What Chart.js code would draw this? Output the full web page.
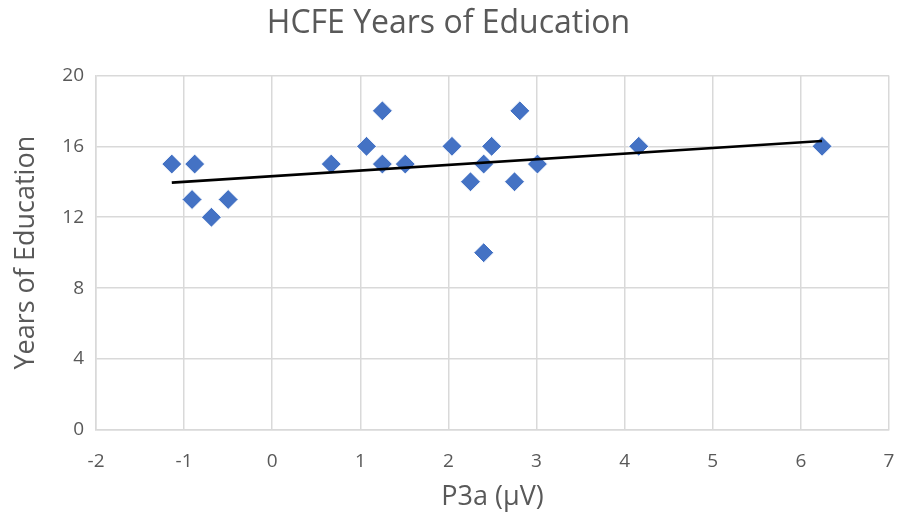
<!DOCTYPE html>
<html>
<head>
<meta charset="utf-8">
<script src="https://cdn.jsdelivr.net/npm/chart.js@4.4.1/dist/chart.umd.min.js"></script>
<style>
  html, body { margin: 0; padding: 0; background: #ffffff; }
  #wrap { width: 900px; height: 524px; }
</style>
</head>
<body>
<div id="wrap"><canvas id="myChart" width="900" height="524"></canvas></div>
<script>
// P3a amplitude (µV) vs years of education
const p3a = [-1.14, -0.88, -0.91, -0.69, -0.50, 0.67, 1.07, 1.25, 1.25, 1.51,
             2.04, 2.25, 2.40, 2.40, 2.49, 2.81, 2.75, 3.01, 4.16, 6.24];
const years = [15, 15, 13, 12, 13, 15, 16, 18, 15, 15,
               16, 14, 10, 15, 16, 18, 14, 15, 16, 16];

// linear trendline end points
const trendX = [-1.14, 6.24];
const trendY = [13.95, 16.3];

const xTicks = [-2, -1, 0, 1, 2, 3, 4, 5, 6, 7];
const yTicks = [0, 4, 8, 12, 16, 20];

const textColor = '#595959';
const gridColor = '#d9d9d9';
const fontFamily = "'Open Sans', sans-serif";

const ctx = document.getElementById("myChart").getContext("2d");

new Chart(ctx, {
  type: "scatter",
  data: {
    datasets: [
      {
        label: "Years of Education",
        data: p3a.map((x, i) => ({ x: x, y: years[i] })),
        pointStyle: 'rectRot',
        pointRadius: 10,
        backgroundColor: '#4472C4',
        borderColor: '#ffffff',
        borderWidth: 1,
        order: 2
      },
      {
        label: "Linear",
        type: "line",
        data: trendX.map((x, i) => ({ x: x, y: trendY[i] })),
        borderColor: '#000000',
        borderWidth: 2.75,
        pointRadius: 0,
        fill: false,
        order: 1
      }
    ]
  },
  options: {
    responsive: false,
    animation: false,
    layout: { padding: { left: 0, right: 3, top: 0, bottom: 0 } },
    scales: {
      x: {
        type: 'linear',
        min: -2,
        max: 7,
        afterBuildTicks: axis => { axis.ticks = xTicks.map(v => ({ value: v })); },
        afterFit: axis => {
          axis.height = 94;
          // keep the tick padding from pushing the plot edges inwards
          axis.paddingLeft = 0;
          axis.paddingRight = 0;
        },
        ticks: { color: textColor, font: { family: fontFamily, size: 19 }, padding: 20 },
        grid: { color: gridColor, lineWidth: 1.5, drawTicks: false },
        border: { color: gridColor, width: 1.5 },
        title: {
          display: true,
          text: 'P3a (µV)',
          color: textColor,
          font: { family: fontFamily, size: 27 },
          padding: { top: 0, bottom: 10 }
        }
      },
      y: {
        min: 0,
        max: 20,
        afterBuildTicks: axis => { axis.ticks = yTicks.map(v => ({ value: v })); },
        afterFit: axis => { axis.width = 96; },
        ticks: { color: textColor, font: { family: fontFamily, size: 19 }, padding: 12 },
        grid: { color: gridColor, lineWidth: 1.5, drawTicks: false },
        border: { color: gridColor, width: 1.5 },
        title: {
          display: true,
          text: 'Years of Education',
          color: textColor,
          font: { family: fontFamily, size: 27 },
          padding: { top: 10, bottom: 0 }
        }
      }
    },
    plugins: {
      legend: { display: false },
      tooltip: { enabled: false },
      title: {
        display: true,
        text: 'HCFE Years of Education',
        color: textColor,
        font: { family: fontFamily, size: 32, weight: 'normal' },
        padding: { top: 5, bottom: 32 }
      }
    }
  }
});
</script>
</body>
</html>
